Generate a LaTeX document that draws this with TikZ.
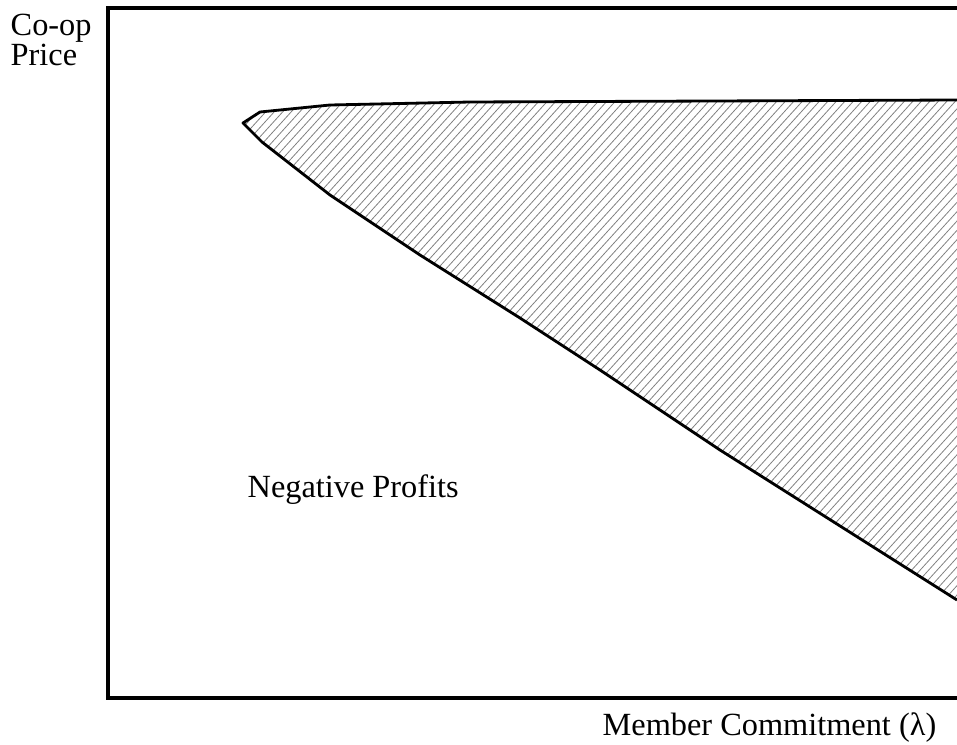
\documentclass[tikz,border=0pt]{standalone}
\usepackage{fontspec}
\setmainfont{Liberation Serif}
\usepackage{tikz}

\begin{document}
\begin{tikzpicture}[x=0.02cm, y=-0.02cm, thick,
    lab/.style={font=\fontsize{18.4}{17}\selectfont, inner sep=0pt, anchor=base west}]
    \useasboundingbox (0,0) rectangle (957,744);
    % frame (open on the right)
    \draw[line width=2pt] (957,8) -- (108,8) -- (108,698) -- (957,698);
    % hatched region
    \begin{scope}
        \clip (957,100) -- (470,102) -- (330,105) -- (260,112) -- (243,123) -- (262,142)
            -- (330,195) -- (420,255) -- (520,318) -- (600,370) -- (720,450) -- (957,600) -- cycle;
        \foreach \x in {-300,-291.5,...,960} {
            \draw[gray, line width=0.45pt] (\x,650) -- ++(500,-550);
        }
    \end{scope}
    \draw[line width=1.6pt, line join=round] (957,100) -- (470,102) -- (330,105) -- (260,112) -- (243,123)
        -- (262,142) -- (330,195) -- (420,255) -- (520,318) -- (600,370) -- (720,450) -- (957,600);
    % labels
    \node[lab] (coop) at (10,35) {Co-op};
    \node[lab] (price) at (10,65) {Price};
    \node[lab] (neg) at (247,497) {Negative Profits};
    \node[lab] (lam) at (602,735) {Member Commitment (λ)};
\end{tikzpicture}
\end{document}
